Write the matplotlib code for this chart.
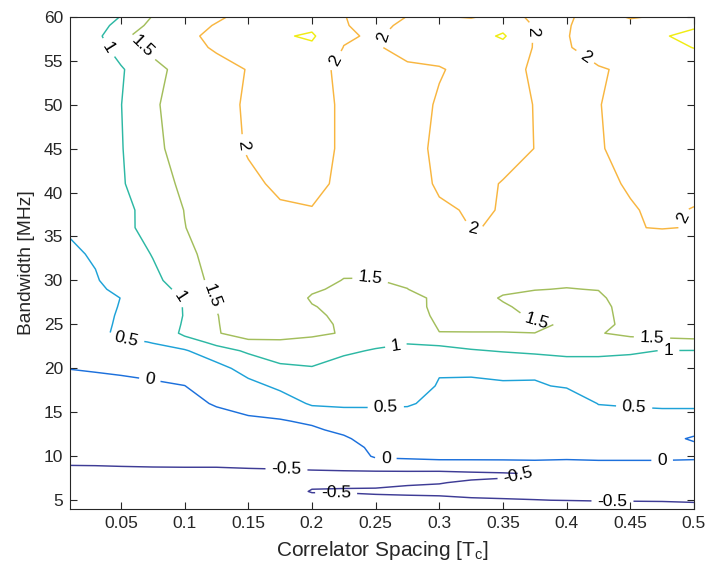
import numpy as np
import matplotlib
matplotlib.use("Agg")
import matplotlib.pyplot as plt

plt.rcParams["font.family"] = "Liberation Sans"
plt.rcParams["mathtext.fontset"] = "custom"
plt.rcParams["mathtext.rm"] = "Liberation Sans"
plt.rcParams["mathtext.it"] = "Liberation Sans"

# grid: correlator spacing [Tc] (columns), bandwidth [MHz] (rows)
spacing = [0.01, 0.03, 0.05, 0.075, 0.1, 0.125, 0.15, 0.175, 0.2, 0.225, 0.25,
           0.275, 0.3, 0.325, 0.35, 0.375, 0.4, 0.425, 0.45, 0.475, 0.5]
bandwidth = [4, 5, 6, 7, 8, 9, 10, 11, 12, 13, 14, 16, 18, 20,
             22, 23, 24, 25, 26, 27, 28, 29, 30,
             33, 36, 38, 41, 45, 50, 54, 56.5, 57.8, 59, 60]

# estimated surface value per spacing column, bottom (4 MHz) to top (60 MHz)
columns = [
    [-0.72, -0.68, -0.64, -0.60, -0.55, -0.498, -0.45, -0.40, -0.36, -0.31, -0.27, -0.18, -0.09, 0.005,
     0.07, 0.10, 0.14, 0.17, 0.20, 0.23, 0.27, 0.30, 0.34, 0.44, 0.54, 0.57, 0.60, 0.60, 0.60, 0.57, 0.62, 0.66, 0.62, 0.56],
    [-0.71, -0.67, -0.63, -0.59, -0.54, -0.497, -0.445, -0.395, -0.35, -0.30, -0.26, -0.165, -0.07, 0.02,
     0.15, 0.30, 0.42, 0.40, 0.38, 0.37, 0.36, 0.42, 0.47, 0.54, 0.60, 0.62, 0.66, 0.66, 0.66, 0.62, 0.80, 0.85, 0.74, 0.60],
    [-0.70, -0.66, -0.62, -0.58, -0.545, -0.492, -0.44, -0.39, -0.34, -0.30, -0.25, -0.15, -0.06, 0.04,
     0.30, 0.45, 0.56, 0.55, 0.54, 0.52, 0.505, 0.60, 0.66, 0.75, 0.84, 0.855, 0.95, 0.97, 0.99, 0.95, 1.21, 1.42, 1.21, 1.02],
    [-0.69, -0.65, -0.61, -0.57, -0.535, -0.49, -0.43, -0.38, -0.33, -0.28, -0.23, -0.14, -0.05, 0.10,
     0.44, 0.51, 0.58, 0.63, 0.68, 0.74, 0.79, 0.85, 0.90, 1.02, 1.20, 1.185, 1.31, 1.41, 1.45, 1.38, 1.60, 1.68, 1.61, 1.52],
    [-0.68, -0.64, -0.60, -0.56, -0.53, -0.49, -0.42, -0.36, -0.30, -0.25, -0.20, -0.10, -0.005, 0.20,
     0.45, 0.80, 1.10, 1.05, 1.02, 1.02, 1.03, 1.10, 1.21, 1.37, 1.49, 1.51, 1.58, 1.65, 1.67, 1.64, 1.83, 1.90, 1.82, 1.72],
    [-0.67, -0.63, -0.59, -0.56, -0.53, -0.49, -0.41, -0.34, -0.27, -0.20, -0.13, 0.03, 0.20, 0.32,
     0.83, 1.12, 1.48, 1.48, 1.485, 1.51, 1.554, 1.60, 1.67, 1.70, 1.71, 1.72, 1.76, 1.84, 1.86, 1.83, 2.06, 2.11, 2.03, 1.93],
    [-0.66, -0.62, -0.58, -0.55, -0.525, -0.485, -0.39, -0.31, -0.23, -0.15, -0.06, 0.13, 0.345, 0.705,
     1.06, 1.45, 1.62, 1.68, 1.72, 1.74, 1.76, 1.77, 1.78, 1.80, 1.84, 1.87, 1.93, 2.03, 2.05, 2.02, 2.12, 2.20, 2.17, 2.14],
    [-0.65, -0.61, -0.575, -0.545, -0.52, -0.483, -0.37, -0.28, -0.20, -0.12, -0.03, 0.24, 0.60, 0.90,
     1.27, 1.46, 1.62, 1.68, 1.72, 1.74, 1.76, 1.78, 1.80, 1.84, 1.90, 1.96, 2.06, 2.18, 2.20, 2.22, 2.35, 2.45, 2.38, 2.30],
    [-0.64, -0.56, -0.49, -0.53, -0.515, -0.48, -0.36, -0.27, -0.18, -0.06, 0.06, 0.56, 0.80, 0.97,
     1.25, 1.42, 1.56, 1.58, 1.57, 1.52, 1.46, 1.55, 1.60, 1.75, 1.90, 1.98, 2.12, 2.20, 2.25, 2.30, 2.42, 2.56, 2.40, 2.30],
    [-0.63, -0.55, -0.49, -0.52, -0.512, -0.478, -0.34, -0.22, -0.06, 0.09, 0.22, 0.58, 0.75, 0.90,
     1.04, 1.28, 1.477, 1.46, 1.42, 1.40, 1.38, 1.43, 1.49, 1.62, 1.70, 1.75, 1.90, 1.92, 1.90, 1.80, 1.99, 2.05, 2.02, 2.01],
    [-0.62, -0.56, -0.47, -0.55, -0.60, -0.27, 0.06, 0.12, 0.19, 0.26, 0.33, 0.55, 0.72, 0.86,
     0.98, 1.06, 1.15, 1.22, 1.28, 1.33, 1.38, 1.44, 1.49, 1.60, 1.68, 1.72, 1.76, 1.80, 1.82, 1.85, 1.96, 1.95, 1.90, 1.88],
    [-0.64, -0.58, -0.44, -0.53, -0.60, -0.25, 0.10, 0.17, 0.24, 0.30, 0.36, 0.53, 0.70, 0.82,
     0.93, 1.02, 1.10, 1.18, 1.26, 1.30, 1.35, 1.495, 1.55, 1.65, 1.72, 1.78, 1.82, 1.86, 1.88, 1.93, 2.13, 2.16, 2.08, 2.005],
    [-0.65, -0.56, -0.44, -0.51, -0.61, -0.23, 0.15, 0.20, 0.25, 0.30, 0.34, 0.42, 0.47, 0.535,
     0.84, 1.12, 1.49, 1.55, 1.60, 1.63, 1.60, 1.69, 1.72, 1.80, 1.87, 1.95, 2.05, 2.08, 2.03, 1.98, 2.12, 2.20, 2.12, 2.02],
    [-0.66, -0.54, -0.40, -0.47, -0.57, -0.21, 0.14, 0.20, 0.25, 0.30, 0.34, 0.40, 0.45, 0.55,
     0.96, 1.20, 1.49, 1.56, 1.60, 1.63, 1.65, 1.68, 1.72, 1.82, 2.005, 2.03, 2.12, 2.17, 2.20, 2.08, 2.20, 2.30, 2.15, 1.97],
    [-0.67, -0.52, -0.41, -0.46, -0.54, -0.20, 0.14, 0.20, 0.26, 0.31, 0.35, 0.42, 0.47, 0.57,
     1.03, 1.25, 1.49, 1.56, 1.58, 1.54, 1.47, 1.56, 1.62, 1.72, 1.99, 1.99, 1.98, 2.15, 2.20, 2.20, 2.35, 2.56, 2.35, 2.10],
    [-0.68, -0.505, -0.43, -0.46, -0.49, -0.18, 0.15, 0.20, 0.26, 0.31, 0.36, 0.44, 0.47, 0.56,
     1.10, 1.30, 1.499, 1.53, 1.46, 1.40, 1.42, 1.51, 1.58, 1.70, 1.80, 1.88, 1.93, 1.995, 1.985, 1.92, 1.97, 1.96, 1.97, 1.95],
    [-0.68, -0.495, -0.42, -0.36, -0.28, -0.10, 0.06, 0.12, 0.17, 0.21, 0.24, 0.28, 0.53, 0.82,
     1.09, 1.22, 1.38, 1.48, 1.40, 1.40, 1.44, 1.49, 1.55, 1.65, 1.72, 1.76, 1.80, 1.85, 1.90, 1.94, 1.97, 1.98, 1.97, 1.96],
    [-0.60, -0.49, -0.41, -0.33, -0.23, -0.08, 0.07, 0.15, 0.22, 0.28, 0.34, 0.51, 0.70, 0.88,
     1.06, 1.20, 1.48, 1.35, 1.36, 1.38, 1.44, 1.51, 1.58, 1.70, 1.78, 1.82, 1.88, 1.96, 1.99, 1.97, 2.15, 2.20, 2.18, 2.12],
    [-0.58, -0.49, -0.40, -0.31, -0.20, -0.08, 0.07, 0.16, 0.24, 0.32, 0.38, 0.53, 0.66, 0.82,
     1.05, 1.38, 1.58, 1.64, 1.66, 1.67, 1.68, 1.70, 1.72, 1.78, 1.99, 1.96, 2.05, 2.16, 2.10, 2.06, 2.25, 2.35, 2.10, 1.97],
    [-0.56, -0.49, -0.39, -0.30, -0.20, -0.08, 0.07, 0.17, 0.27, 0.35, 0.40, 0.54, 0.66, 0.80,
     0.99, 1.36, 1.66, 1.70, 1.72, 1.74, 1.75, 1.76, 1.78, 1.80, 2.01, 2.10, 2.18, 2.22, 2.20, 2.20, 2.38, 2.47, 2.30, 2.03],
    [-0.56, -0.48, -0.38, -0.29, -0.19, -0.08, 0.05, 0.20, -0.10, 0.25, 0.40, 0.54, 0.66, 0.80,
     0.985, 1.38, 1.72, 1.74, 1.75, 1.76, 1.77, 1.78, 1.80, 1.82, 1.99, 1.97, 2.20, 2.25, 2.25, 2.25, 2.51, 2.60, 2.45, 2.30],
]

levels = [-0.5, 0, 0.5, 1, 1.5, 2, 2.5]
line_colors = ["#3e3c96", "#1c70dc", "#1ea2d8", "#2db8a4", "#a3be5c", "#f8b640", "#f0ec14"]

# label spots
label_spots = [
    (0.0375, 56.2), (0.098, 28.4), (0.266, 22.5), (0.48, 22.05),
    (0.0636, 56.0), (0.122, 28.2), (0.246, 30.1), (0.377, 25.8), (0.467, 23.4),
    (0.054, 23.1), (0.258, 15.5), (0.453, 15.5),
    (0.0727, 18.7), (0.258, 9.7), (0.475, 9.6),
    (0.18, 8.5), (0.219, 5.8), (0.362, 7.85), (0.436, 4.85),
    (0.145, 45.4), (0.219, 55.0), (0.254, 57.7), (0.326, 36.3),
    (0.381, 58.3), (0.412, 54.9), (0.482, 37.8),
]

x = np.array(spacing)
y = np.array(bandwidth)
z = np.array(columns).T

fig = plt.figure(figsize=(7.09, 5.76), dpi=100)
ax = fig.add_axes([0.0987, 0.1163, 0.8801, 0.8547])
cs = ax.contour(x, y, z, levels=levels, colors=line_colors, linewidths=1.05)
ax.clabel(cs, levels=levels[:-1], manual=label_spots, inline=True, inline_spacing=6,
          fmt="%g", fontsize=12.5, colors="k")

ax.set_xlim(0.01, 0.5)
ax.set_ylim(4, 60)
ax.set_xticks(np.arange(0.05, 0.501, 0.05))
ax.set_xticklabels(["0.05", "0.1", "0.15", "0.2", "0.25", "0.3", "0.35", "0.4", "0.45", "0.5"])
ax.set_yticks(np.arange(5, 61, 5))
ax.tick_params(direction="in", length=5, width=0.8, top=True, right=True,
               labelsize=12.5, colors="#262626", pad=5)
for s in ax.spines.values():
    s.set_color("#262626"); s.set_linewidth(0.8)
ax.set_xlabel("Correlator Spacing [T$_{\\mathrm{c}}$]", fontsize=15, color="#262626", labelpad=6)
ax.set_ylabel("Bandwidth [MHz]", fontsize=13.8, color="#262626", labelpad=6)

fig.savefig("out.png", dpi=100)
